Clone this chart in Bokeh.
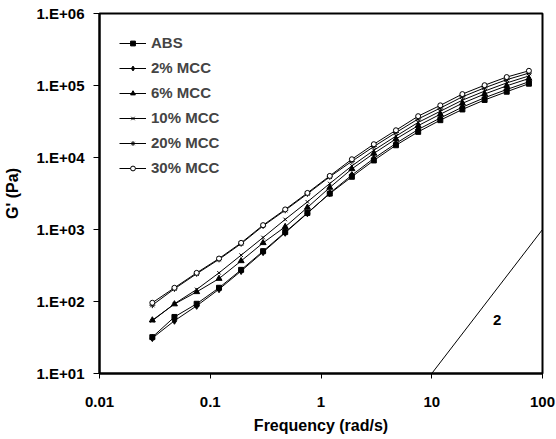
from bokeh.plotting import figure
from bokeh.models import (FixedTicker, CustomJSTickFormatter, Legend, LegendItem, Label, Range1d)
from bokeh.embed import file_html
from bokeh.resources import INLINE

# ---- data ----
freq = [0.03, 0.0475, 0.0754, 0.12, 0.19, 0.3, 0.475, 0.754, 1.2, 1.9,
        3.0, 4.75, 7.54, 11.95, 18.9, 30.0, 47.5, 75.4]

g_abs = [32, 61, 93, 155, 275, 500, 920, 1700, 3150, 5400, 9100, 14800,
         22700, 33000, 46500, 63000, 82000, 106000]
g_2 = [31, 54, 87, 148, 265, 485, 900, 1680, 3200, 5700, 9700, 15700,
       24500, 35400, 50100, 67600, 88000, 112700]
g_6 = [55, 92, 136, 208, 366, 652, 1090, 2020, 3830, 6950, 11400, 18100,
       27700, 39900, 56600, 76100, 98900, 125000]
g_10 = [54, 93, 147, 250, 440, 774, 1380, 2420, 4350, 7640, 12600, 19800,
        30700, 43900, 62500, 83600, 108600, 135700]
g_20 = [89, 150, 243, 385, 635, 1120, 1850, 3130, 5400, 8850, 14200, 22200,
        34300, 48600, 69600, 92800, 120400, 148600]
g_30 = [96, 155, 250, 395, 652, 1150, 1900, 3220, 5550, 9460, 15300, 23900,
        37500, 53000, 76000, 101000, 131000, 160000]

series_names = ["ABS", "2% MCC", "6% MCC", "10% MCC", "20% MCC", "30% MCC"]
series_values = [g_abs, g_2, g_6, g_10, g_20, g_30]

x_ticks = [0.01, 0.1, 1, 10, 100]
x_tick_labels = ["0.01", "0.1", "1", "10", "100"]
y_ticks = [10, 100, 1000, 10000, 100000, 1000000]
y_tick_labels = ["1.E+01", "1.E+02", "1.E+03", "1.E+04", "1.E+05", "1.E+06"]

slope_x = [10, 100]
slope_y = [10, 1000]
slope_label = "2"
slope_label_pos = (39, 55)

x_title = "Frequency (rad/s)"
y_title = "G' (Pa)"

FONT = "Liberation Sans"

# ---- figure ----
p = figure(width=556, height=439, x_axis_type="log", y_axis_type="log",
           x_range=Range1d(x_ticks[0], x_ticks[-1]),
           y_range=Range1d(y_ticks[0], y_ticks[-1]),
           output_backend="svg", toolbar_location=None,
           min_border_left=98, min_border_right=14, min_border_top=13,
           min_border_bottom=66)

p.background_fill_color = "white"
p.border_fill_color = "white"
p.outline_line_color = "black"
p.outline_line_width = 2
p.xgrid.visible = False
p.ygrid.visible = False

markers = [
    dict(marker="square", size=5, fill_color="black"),
    dict(marker="diamond", size=7, fill_color="black"),
    dict(marker="triangle", size=6, fill_color="black"),
    dict(marker="x", size=5, fill_color="black"),
    dict(marker="asterisk", size=6, fill_color="black"),
    dict(marker="circle", size=5, fill_color="white"),
]

items = []
for name, vals, mk in zip(series_names, series_values, markers):
    lr = p.line(freq, vals, line_color="black", line_width=1)
    sr = p.scatter(freq, vals, marker=mk["marker"], size=mk["size"],
                   fill_color=mk["fill_color"], line_color="black", line_width=1)
    items.append(LegendItem(label=name, renderers=[lr, sr]))

p.line(slope_x, slope_y, line_color="black", line_width=1)
p.add_layout(Label(x=slope_label_pos[0], y=slope_label_pos[1], text=slope_label,
                   text_font=FONT, text_font_style="bold", text_font_size="15px",
                   text_align="center", text_baseline="middle", text_color="black"))

legend = Legend(items=items, location=(20, 197), orientation="vertical",
                label_text_font=FONT, label_text_font_style="bold",
                label_text_font_size="15px", label_height=12, glyph_height=12,
                glyph_width=27, spacing=8, padding=0, margin=0, label_standoff=5,
                border_line_color=None, background_fill_alpha=0)
p.add_layout(legend, "center")

# ---- axes ----
xa = p.xaxis[0]
xa.ticker = FixedTicker(ticks=x_ticks)
xa.formatter = CustomJSTickFormatter(args=dict(vals=x_ticks, labs=x_tick_labels), code="""
    const i = vals.findIndex(v => Math.abs(Math.log10(v) - Math.log10(tick)) < 1e-6);
    return i >= 0 ? labs[i] : '';
""")
xa.axis_label = x_title
ya = p.yaxis[0]
ya.ticker = FixedTicker(ticks=y_ticks)
ya.formatter = CustomJSTickFormatter(args=dict(vals=y_ticks, labs=y_tick_labels), code="""
    const i = vals.findIndex(v => Math.abs(Math.log10(v) - Math.log10(tick)) < 1e-6);
    return i >= 0 ? labs[i] : '';
""")
ya.axis_label = y_title

for ax in (xa, ya):
    ax.axis_line_color = "black"
    ax.axis_line_width = 2
    ax.major_tick_line_color = "black"
    ax.major_tick_line_width = 1
    ax.major_tick_in = 0
    ax.minor_tick_line_color = None
    ax.major_label_text_font = FONT
    ax.major_label_text_font_style = "bold"
    ax.major_label_text_font_size = "15px"
    ax.major_label_text_color = "black"
    ax.axis_label_text_font = FONT
    ax.axis_label_text_font_style = "bold"
    ax.axis_label_text_font_size = "16px"
    ax.axis_label_text_color = "black"

xa.major_tick_out = 5
xa.major_label_standoff = 18
xa.axis_label_standoff = 7
ya.major_tick_out = 6
ya.major_label_standoff = 9
ya.axis_label_standoff = 13

open("out.html", "w").write(file_html(p, INLINE))
